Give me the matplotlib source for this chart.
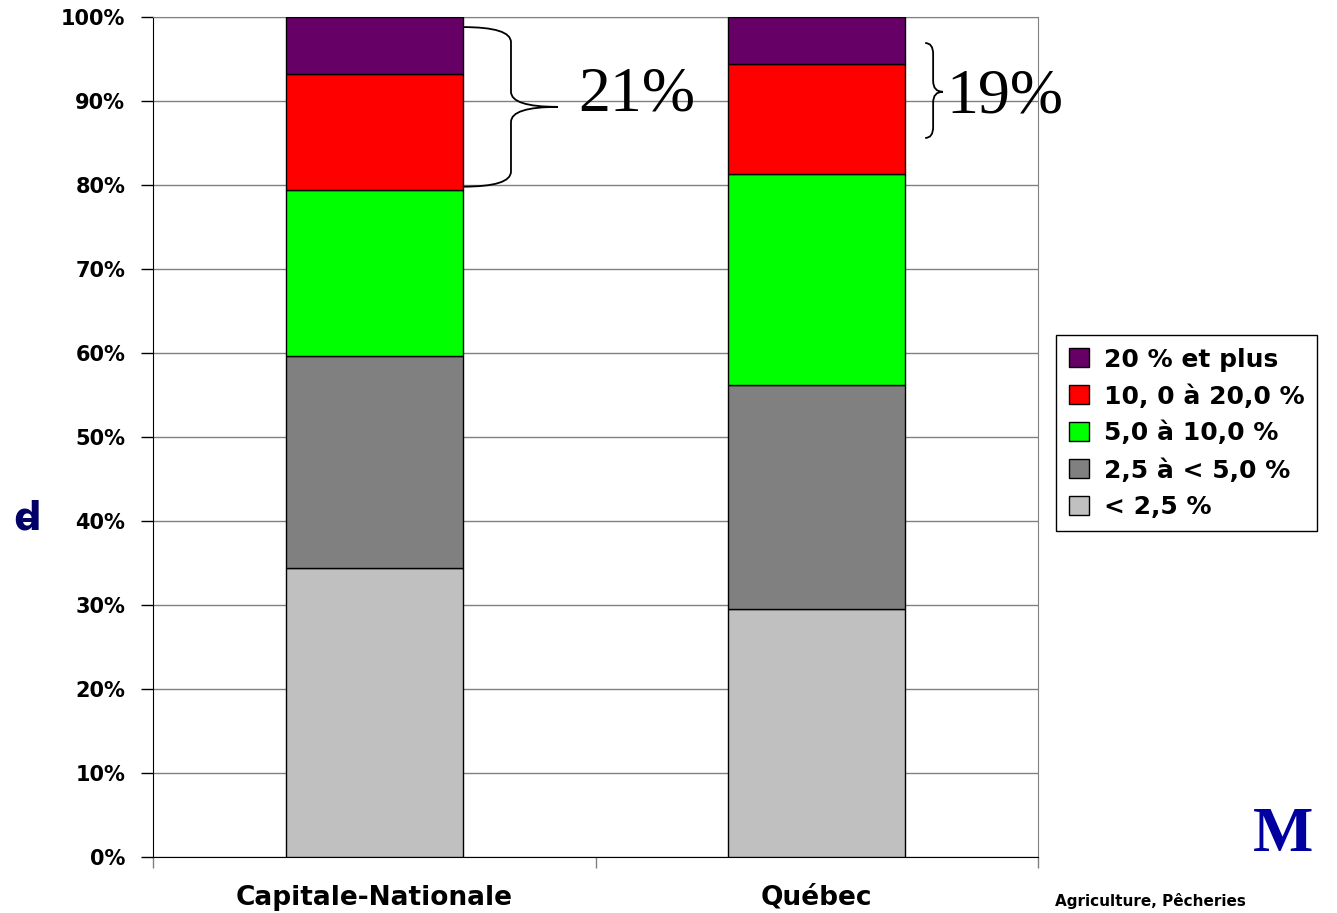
"""
Distribution des exploitations selon la part du revenu - Capitale-Nationale vs Québec
"""

import matplotlib
matplotlib.use('Agg')
import matplotlib.pyplot as plt
from matplotlib.path import Path
from matplotlib.patches import PathPatch
import numpy as np

regions = ['Capitale-Nationale', 'Québec']
classes = ['< 2,5 %', '2,5 à < 5,0 %', '5,0 à 10,0 %', '10, 0 à 20,0 %', '20 % et plus']
colors = ['#C0C0C0', '#808080', '#00FF00', '#FF0000', '#660066']

# parts (%) par classe, une liste par classe : [Capitale-Nationale, Québec]
lt_2_5 = [34.4, 29.5]
de_2_5_a_5 = [25.2, 26.7]
de_5_a_10 = [19.8, 25.1]
de_10_a_20 = [13.8, 13.1]
plus_20 = [6.8, 5.6]
series = [lt_2_5, de_2_5_a_5, de_5_a_10, de_10_a_20, plus_20]

brace_labels = ['21%', '19%']

fig = plt.figure(figsize=(13.37, 9.13), dpi=100)
ax = fig.add_axes([153/1337, 1 - 857/913, 885/1337, 840/913])

x = np.arange(len(regions))
bottom = np.zeros(len(regions))
handles = []
for vals, col, lab in zip(series, colors, classes):
	h = ax.bar(x, vals, 0.4, bottom=bottom, color=col, edgecolor='black',
	           linewidth=1, label=lab, zorder=3)
	handles.append(h)
	bottom += np.array(vals)

ax.set_xlim(-0.5, 1.5)
ax.set_ylim(0, 100)
ax.set_yticks(np.arange(0, 101, 10))
ax.set_yticklabels(['%d%%' % v for v in range(0, 101, 10)])
ax.yaxis.grid(True, color='#808080', linewidth=1, zorder=0)
ax.tick_params(axis='y', length=9, width=1, pad=11, labelsize=15)
for t in ax.get_yticklabels():
	t.set_fontweight('bold')

ax.set_xticks([-0.5, 0.5, 1.5])
ax.set_xticklabels([])
ax.tick_params(axis='x', which='major', length=8, width=1, color='#808080')
ax.set_xticks(x, minor=True)
ax.set_xticklabels(regions, minor=True, fontsize=19, fontweight='bold')
ax.tick_params(axis='x', which='minor', length=0, pad=20)

ax.spines['left'].set_color('black')
ax.spines['bottom'].set_color('black')
ax.spines['top'].set_color('#808080')
ax.spines['right'].set_color('#808080')


def brace(ax, x0, xv, xtip, ybot, ytop, ytip, r):
	verts = [(x0, ytop), (xv, ytop), (xv, ytop - r),
	         (xv, ytip + r), (xv, ytip), (xtip, ytip),
	         (xv, ytip), (xv, ytip - r),
	         (xv, ybot + r), (xv, ybot), (x0, ybot)]
	codes = [Path.MOVETO, Path.CURVE3, Path.CURVE3,
	         Path.LINETO, Path.CURVE3, Path.CURVE3,
	         Path.CURVE3, Path.CURVE3,
	         Path.LINETO, Path.CURVE3, Path.CURVE3]
	p = PathPatch(Path(verts, codes), facecolor='none', edgecolor='black',
	              linewidth=1.3, zorder=5, clip_on=False)
	ax.add_patch(p)


brace(ax, 0.2, 0.309, 0.415, 79.8, 98.8, 89.3, 1.8)
ax.text(0.46, 90.6, brace_labels[0], fontsize=46, family='Liberation Serif',
        va='center', ha='left', zorder=6, clip_on=False)
brace(ax, 1.245, 1.263, 1.285, 85.6, 96.9, 91.1, 1.3)
ax.text(1.294, 90.4, brace_labels[1], fontsize=46, family='Liberation Serif',
        va='center', ha='left', zorder=6, clip_on=False)

leg = fig.legend(handles[::-1], classes[::-1], loc='upper left',
                 bbox_to_anchor=(1056/1337, 1 - 335/913), borderaxespad=0,
                 prop={'size': 18, 'weight': 'bold'}, fancybox=False,
                 edgecolor='black', framealpha=1, handlelength=0.8,
                 handleheight=0.8, handletextpad=0.6, labelspacing=0.5,
                 borderpad=0.5)
leg.get_frame().set_linewidth(1)
for p in leg.get_patches():
	p.set_edgecolor('black')

# titre d'axe tronque (glyphe barre)
fig.text(27/1337, 1 - 518/913, 'd\u0335', fontsize=28, fontweight='bold',
         color='#000066', ha='center', va='center')

# logo et texte du bas
fig.text(1283/1337, 1 - 836/913, 'M', fontsize=46, fontweight='bold',
         family='Liberation Serif', color='#0000A0', ha='center', va='center')
fig.text(1055/1337, 1 - 909/913, 'Agriculture, Pêcheries', fontsize=11,
         fontweight='bold', color='black', ha='left', va='bottom')

fig.savefig('out.png', dpi=100)
